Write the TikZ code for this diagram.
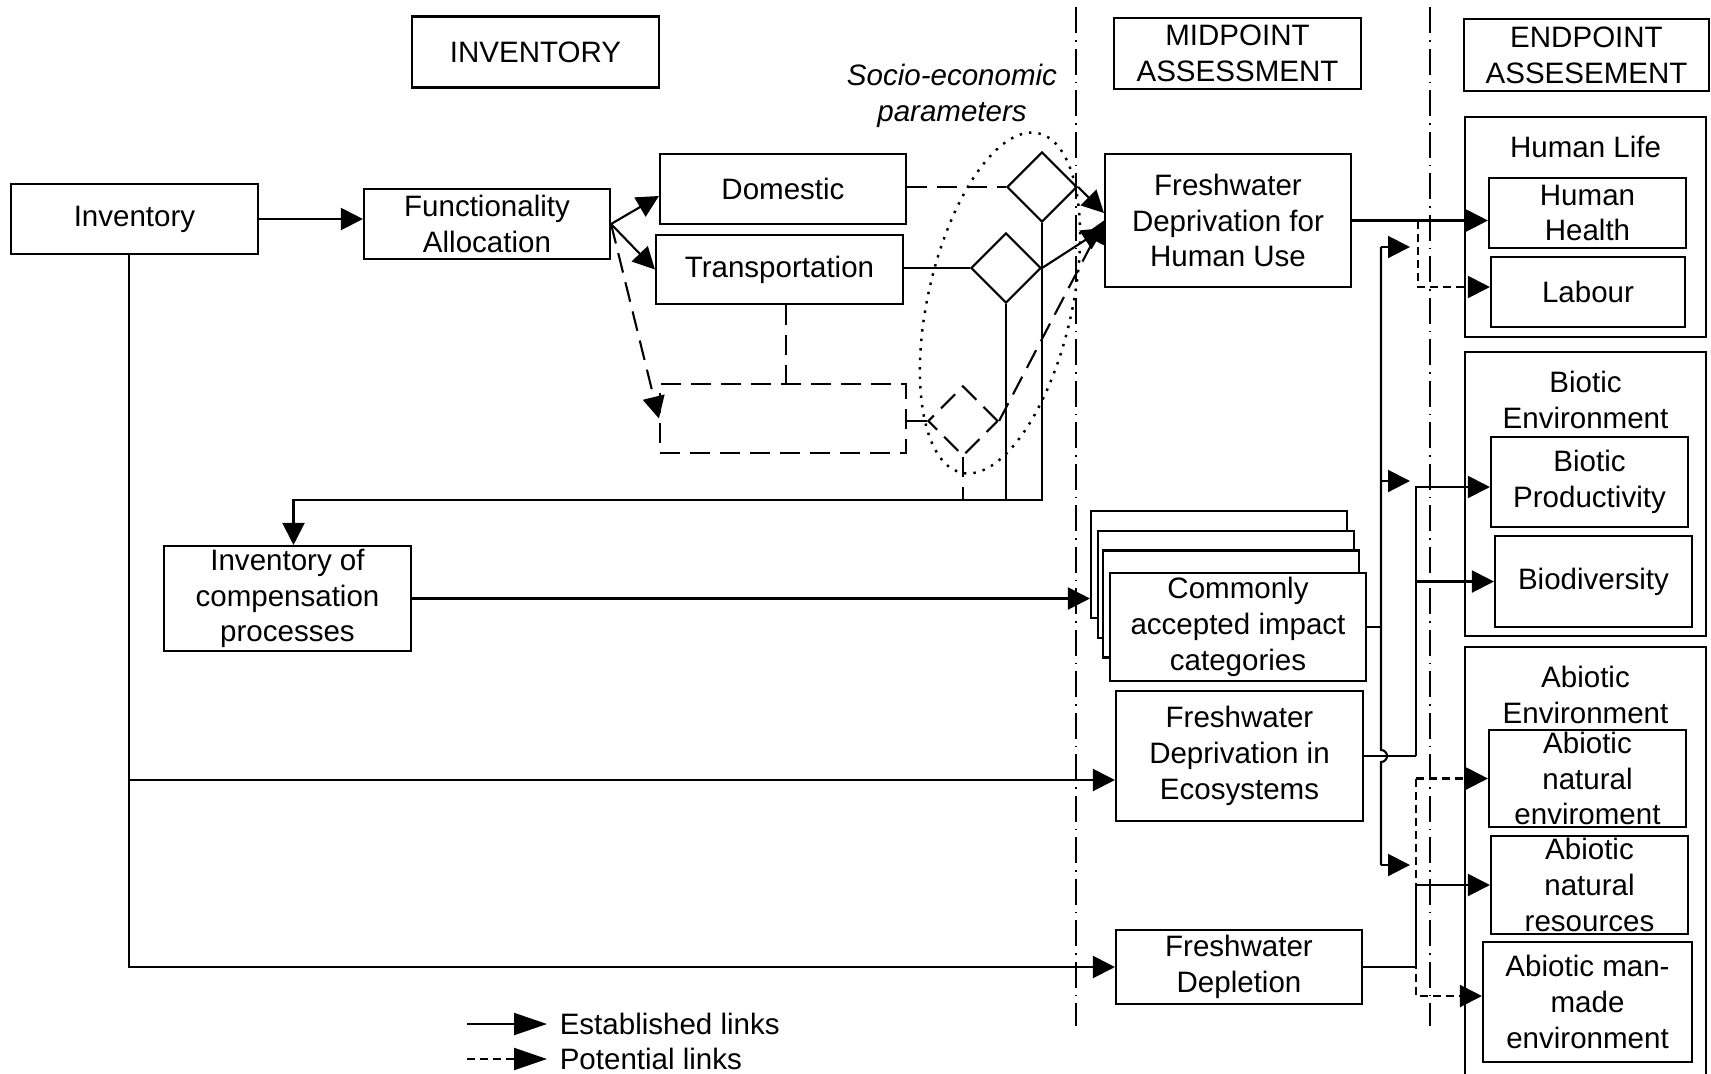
\documentclass[tikz,border=0pt]{standalone}
\usepackage{fontspec}
\setmainfont{Liberation Sans}
\usepackage{tikz}
\usetikzlibrary{arrows.meta,positioning,shapes.geometric,calc}
\newcommand{\diagfont}{\fontsize{8.4}{10.2}\selectfont}
\tikzset{
  box/.style={draw, line width=0.6pt, align=center, inner sep=0pt, font=\diagfont, minimum width=2.47cm},
  boxD/.style={box, dash pattern=on 2mm off 1mm},
  grp/.style={draw, line width=0.6pt, minimum width=2.41cm, inner sep=0pt},
  dmd/.style={diamond, draw, line width=0.6pt, minimum width=7mm, minimum height=7mm, inner sep=0pt},
  wire/.style={line width=0.6pt},
  Elink/.style={-{Triangle[length=2.2mm,width=2.2mm]}, line width=0.6pt},
  Plink/.style={Elink, dash pattern=on 0.8mm off 0.5mm},
  PlinkL/.style={Elink, dash pattern=on 2mm off 1mm},
  sepline/.style={line width=0.6pt, dash pattern=on 2.6mm off 0.7mm on 0.15mm off 0.7mm},
}

\begin{document}
\begin{tikzpicture}
\useasboundingbox (0,0) rectangle (17.11,-10.73);
% --- Column headers ---
\node[box, minimum height=0.71cm] (hdrInv) at (5.355,-0.52) {INVENTORY};
\node[box, minimum height=0.71cm] (hdrMid) at (12.375,-0.535) {MIDPOINT\\ASSESSMENT};
\node[box, minimum width=2.45cm, minimum height=0.72cm] (hdrEnd) at (15.865,-0.55) {ENDPOINT\\ASSESEMENT};
\node[font=\diagfont\itshape, align=center] (socio) at (9.52,-0.96) {Socio-economic\\parameters};
\draw[sepline] (10.76,-0.07) -- (10.76,-10.26);
\draw[sepline] (14.30,-0.07) -- (14.30,-10.26);
% --- Inventory side ---
\node[box, minimum height=0.70cm] (inv) at (1.345,-2.19) {Inventory};
\node[box, minimum width=2.46cm, minimum height=0.70cm] (func) at (4.87,-2.24) {Functionality\\Allocation};
\node[box, minimum width=2.46cm, minimum height=0.70cm] (dom) at (7.83,-1.89) {Domestic};
\node[box, minimum height=0.69cm] (trans) at (7.795,-2.695) {Transportation};
\node[boxD, minimum width=2.46cm, minimum height=0.69cm] (pot) at (7.83,-4.185) {};
\node[dmd] (dDom) at (10.42,-1.87) {};
\node[dmd] (dTra) at (10.06,-2.68) {};
\node[dmd, dash pattern=on 2mm off 1mm] (dPot) at (9.63,-4.21) {};
\node[box, minimum height=1.05cm] (invComp) at (2.875,-5.985) {Inventory of\\compensation\\processes};
\draw[dotted, line width=0.7pt, rotate around={-12.8:(10.00,-3.03)}] (10.00,-3.03) ellipse [x radius=0.72, y radius=1.74];
\draw[Elink] (inv.east) -- (inv.east -| func.west);
\draw[Elink] (func.east) -- ($(dom.west)+(0,-0.07)$);
\draw[Elink] (func.east) -- (trans.west);
\draw[PlinkL] (func.east) -- (pot.west);
\draw[wire, dash pattern=on 2mm off 1mm] (dom.east |- dDom.west) -- (dDom.west);
\draw[wire] (trans.east |- dTra.west) -- (dTra.west);
\draw[wire] (pot.east |- dPot.west) -- (dPot.west);
\coordinate (transDn) at ([xshift=0.65mm]trans.south);
\draw[wire, dash pattern=on 2mm off 1mm] (transDn) -- (transDn |- pot.north);
% feedback to compensation
\coordinate (fbR) at (10.42,-5.00);
\draw[Elink] (dDom.south) -- (fbR) -| ([xshift=0.6mm]invComp.north);
\draw[wire] (dTra.south) -- (dTra.south |- fbR);
\draw[wire, dash pattern=on 2mm off 1mm] (dPot.south) -- (dPot.south |- fbR);
% --- Midpoint ---
\node[box, minimum width=2.46cm, minimum height=1.33cm] (fdHum) at (12.28,-2.205) {Freshwater\\Deprivation for\\Human Use};
\foreach \x/\y [count=\i] in {12.19/5.645, 12.26/5.845, 12.31/6.04}
  \node[box, fill=white, minimum width=2.56cm, minimum height=1.07cm] (cat\i) at (\x,-\y) {};
\node[box, fill=white, minimum width=2.56cm, minimum height=1.08cm] (catF) at (12.38,-6.27) {Commonly\\accepted impact\\categories};
\node[box, minimum height=1.30cm] (fdEco) at (12.395,-7.56) {Freshwater\\Deprivation in\\Ecosystems};
\node[box, minimum width=2.46cm, minimum height=0.74cm] (fdDep) at (12.39,-9.67) {Freshwater\\Depletion};
\draw[Elink] (dDom.east) -- ($(fdHum.west)+(0,0.075)$);
\draw[Elink] (dTra.east) -- ($(fdHum.west)+(0,-0.075)$);
\draw[PlinkL] (dPot.east) -- (fdHum.west);
\coordinate (trunk) at ([xshift=-0.55mm]inv.south);
\coordinate (ecoIn) at ($(fdEco.west)+(0,-0.24)$);
\draw[Elink] (trunk) |- (fdDep.west);
\draw[Elink] (trunk |- ecoIn) -- (ecoIn);
\draw[Elink] (invComp.east) -- (invComp.east -| cat1.west);
% --- Endpoint ---
\node[grp, minimum height=2.20cm] (gHL) at (15.855,-2.27) {};
\node[font=\diagfont] (gHLt) at ([yshift=-0.31cm]gHL.north) {Human Life};
\node[grp, minimum height=2.84cm] (gBE) at (15.855,-4.94) {};
\node[font=\diagfont, align=center] (gBEt) at ([yshift=-0.49cm]gBE.north) {Biotic\\Environment};
\node[grp, minimum height=4.43cm] (gAE) at (15.855,-8.685) {};
\node[font=\diagfont, align=center] (gAEt) at ([yshift=-0.49cm]gAE.north) {Abiotic\\Environment};
\node[box, minimum width=1.97cm, minimum height=0.70cm] (hh) at (15.875,-2.13) {Human\\Health};
\node[box, minimum width=1.94cm, minimum height=0.70cm] (lab) at (15.88,-2.92) {Labour};
\node[box, minimum width=1.97cm, minimum height=0.90cm] (bp) at (15.895,-4.82) {Biotic\\Productivity};
\node[box, minimum width=1.97cm, minimum height=0.91cm] (bd) at (15.935,-5.815) {Biodiversity};
\node[box, minimum width=1.97cm, minimum height=0.97cm] (ane) at (15.875,-7.785) {Abiotic\\natural\\enviroment};
\node[box, minimum width=1.97cm, minimum height=0.98cm] (anr) at (15.895,-8.85) {Abiotic\\natural\\resources};
\node[box, minimum width=2.09cm, minimum height=1.20cm] (amm) at (15.875,-10.02) {Abiotic man-\\made\\environment};
% human life links
\draw[Elink] (fdHum.east) -- (fdHum.east -| hh.west);
\coordinate (hlSplit) at ($(fdHum.east)+(0.66,0)$);
\draw[Plink] (hlSplit) |- ($(lab.west)+(0,0.05)$);
% shared bus
\foreach \y/\n in {2.47/A, 4.81/B, 8.65/C} {
  \coordinate (bus\n) at (13.81,-\y);
  \coordinate (busTip\n) at (14.10,-\y);
  \draw[Elink] (bus\n) -- (busTip\n);
}
\draw[wire] (catF.east) -- (catF.east -| busA);
\draw[wire] (busA) -- (13.81,-7.50) arc[start angle=90, end angle=-90, radius=0.06] -- (busC);
% ecosystems and depletion links
\coordinate (ecoBus) at (14.16,-7.56);
\draw[wire] (fdEco.east) -- (ecoBus);
\draw[Elink] (ecoBus) |- ($(bp.west)+(0,-0.05)$);
\draw[Elink] (ecoBus |- bd.west) -- (bd.west);
\draw[Elink] (fdDep.east) -- (fdDep.east -| ecoBus) |- (anr.west);
\draw[Plink] (ecoBus |- ane.west) -- (ane.west);
\draw[Plink] (ecoBus |- ane.west) |- ($(amm.west)+(0,0.06)$);
% --- Legend ---
\coordinate (lgE0) at (4.67,-10.24);
\coordinate (lgE1) at (5.47,-10.24);
\coordinate (lgP0) at (4.67,-10.59);
\coordinate (lgP1) at (5.47,-10.59);
\draw[Elink, -{Triangle[length=3.3mm,width=2.2mm]}] (lgE0) -- (lgE1) node[right, font=\diagfont] (lgEt) {Established links};
\draw[Plink, -{Triangle[length=3.3mm,width=2.2mm]}] (lgP0) -- (lgP1) node[right, font=\diagfont] (lgPt) {Potential links};
\end{tikzpicture}
\end{document}
